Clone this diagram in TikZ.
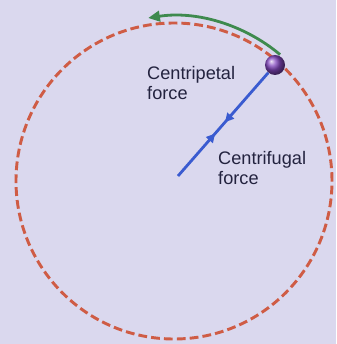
\documentclass[tikz,border=0pt]{standalone}
\usepackage{fontspec}
\setmainfont{Liberation Sans}
\usetikzlibrary{arrows.meta,decorations.markings}
\definecolor{bgviolet}{HTML}{DAD8EE}
\definecolor{orbitred}{HTML}{CF5C45}
\definecolor{motiongreen}{HTML}{3E8A4E}
\definecolor{forceblue}{HTML}{3A5BD0}
\definecolor{ballviolet}{HTML}{8448C0}
\definecolor{labelnavy}{HTML}{23233F}
\tikzset{
  forcelabel/.style={anchor=north west, inner sep=0pt, align=left,
    text=labelnavy, font=\fontsize{15.5}{17.5}\selectfont},
  forceline/.style={forceblue, line width=2.4pt, postaction={decorate},
    decoration={markings,
      mark=at position 0.48 with {\arrow{Triangle[length=7.5pt,width=7.5pt]}},
      mark=at position 0.59 with {\arrowreversed{Triangle[length=7.5pt,width=7.5pt]}}}}
}
\begin{document}
\begin{tikzpicture}[scale=0.03]
  % background
  \fill[bgviolet] (0,0) rectangle (336,344);
  \useasboundingbox (0,0) rectangle (336,344);
  % orbit
  \coordinate (centre) at (174,163);
  \draw[orbitred, line width=2.5pt, dash pattern=on 7.5pt off 3.5pt] (centre) circle (158);
  % direction of motion
  \draw[motiongreen, line width=2.4pt, -{Triangle[length=10pt,width=9pt]}]
    (centre) ++(50:165) arc[start angle=50, end angle=99, radius=165];
  % body and forces
  \coordinate (hub) at (178,168);
  \node[circle, inner sep=0pt, minimum size=0.6cm, shading=ball, ball color=ballviolet] (ball) at (275,279) {};
  \draw[forceline] (ball) -- (hub);
  % labels
  \node[forcelabel] (centripetal) at (147,278) {Centripetal\\force};
  \node[forcelabel] (centrifugal) at (218,193) {Centrifugal\\force};
\end{tikzpicture}
\end{document}
